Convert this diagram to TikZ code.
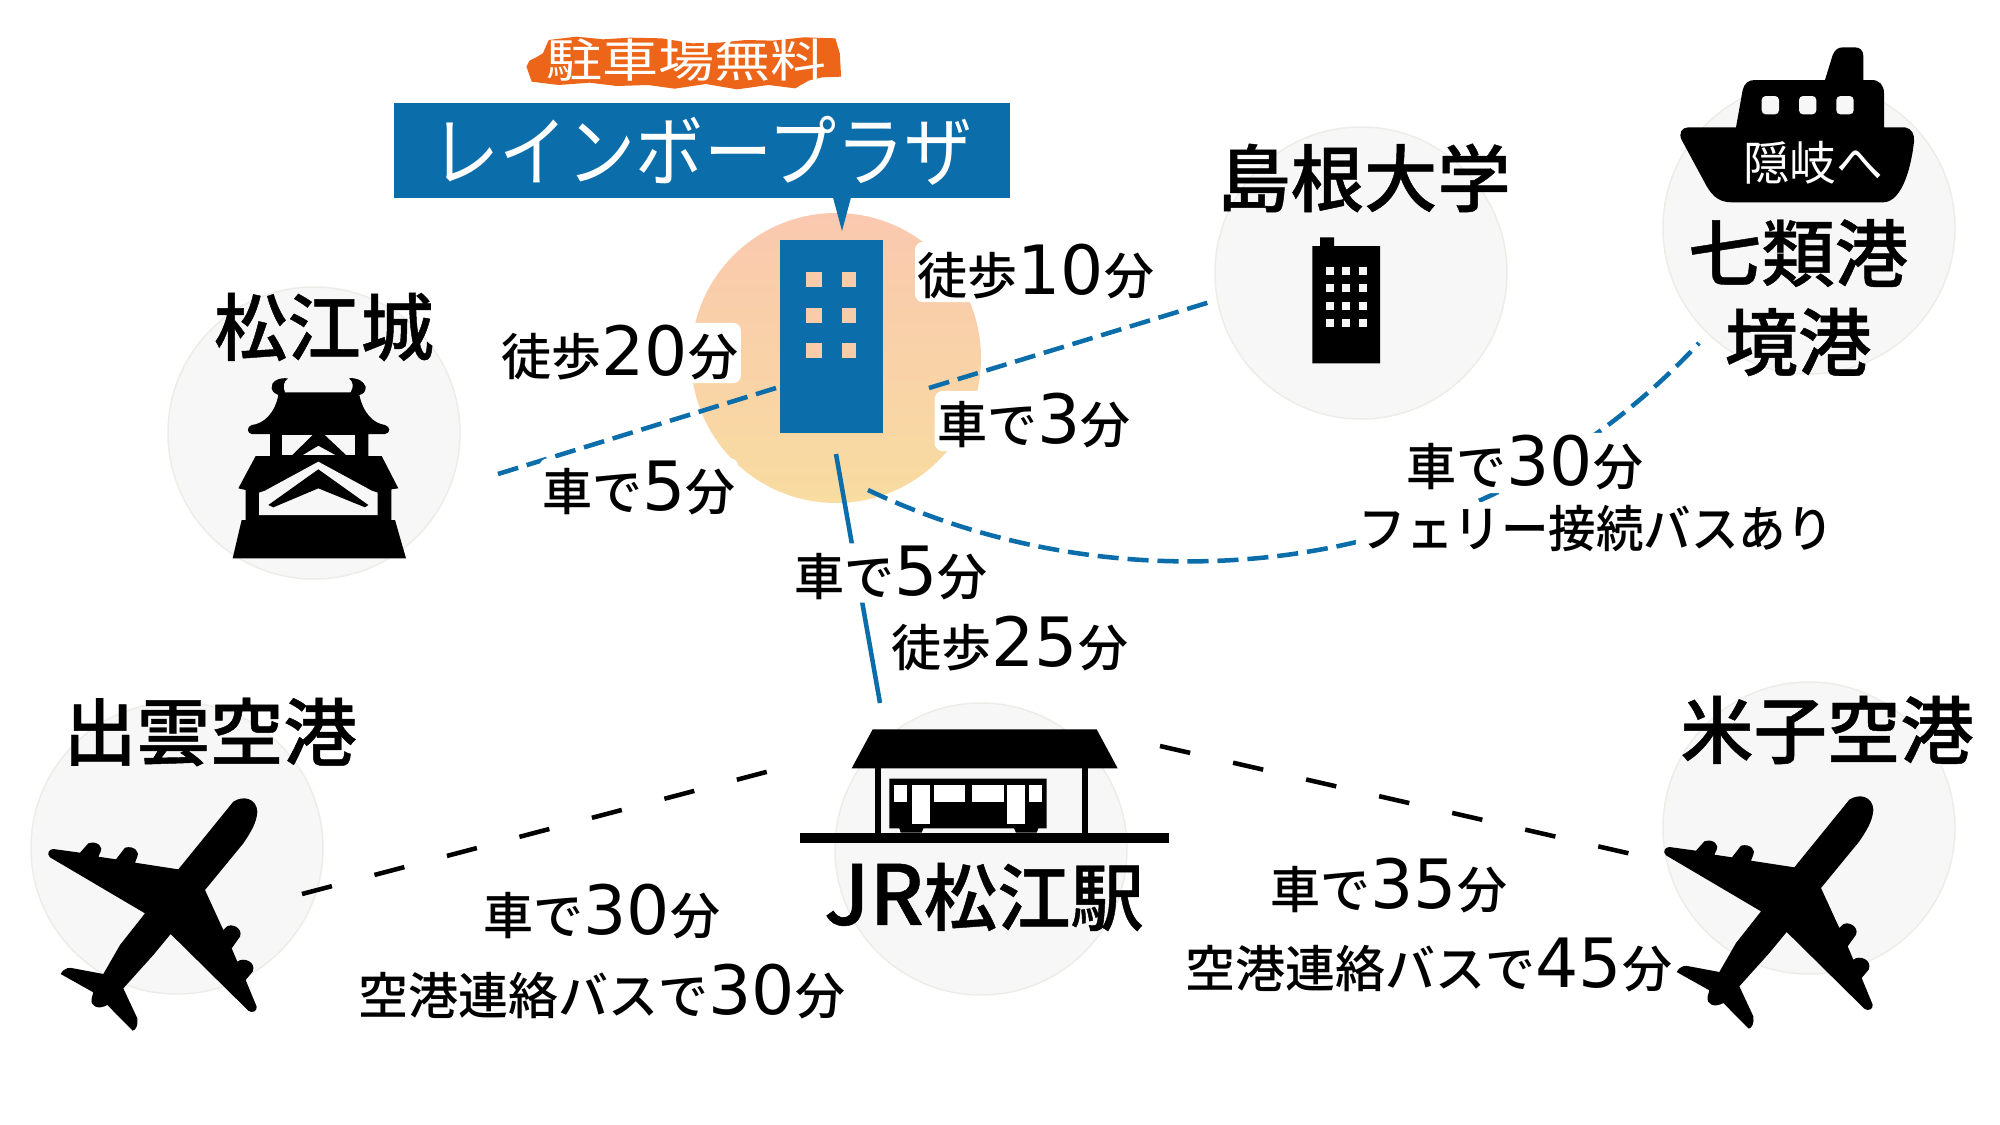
\documentclass[tikz,border=0pt]{standalone}
\usepackage{fontspec}
\setmainfont{Noto Sans CJK JP}
\newfontfamily\midfont{Noto Sans CJK JP Medium}
\newfontfamily\headfont[FakeBold=0.6]{Noto Sans CJK JP Medium}
\newfontfamily\digitfont{DejaVu Sans}
\usetikzlibrary{calc}
\definecolor{rblue}{HTML}{0B6EAA}
\definecolor{spotfill}{HTML}{F7F7F7}
\definecolor{spotedge}{HTML}{EEECE9}
\definecolor{peach}{HTML}{F8CBA9}
\definecolor{hubtop}{HTML}{FAC8AF}
\definecolor{hubbot}{HTML}{F8DCA0}
\definecolor{tagorange}{HTML}{EC6519}
\newcommand{\D}[1]{{\fontsize{51}{56}\digitfont #1}}
\tikzset{
  spot/.style={circle,minimum size=219pt,inner sep=0pt,fill=spotfill,draw=spotedge,line width=1.1pt},
  heading/.style={font=\fontsize{55}{60}\headfont,inner sep=0pt,text=black},
  timelabel/.style={font=\fontsize{37.5}{42}\midfont,inner sep=0pt,text=black},
  halo/.style={fill=white,rounded corners=6pt,inner sep=2pt},
  bluedash/.style={draw=rblue,line width=3.4pt,dash pattern=on 15.8pt off 6.7pt},
  blackdash/.style={draw=black,line width=3.4pt,dash pattern=on 23.2pt off 33pt},
  blueline/.style={draw=rblue,line width=3.4pt},
  icon/.style={fill=black},
  iconhole/.style={fill=spotfill},
}
\newcommand{\planeshape}{
  \fill[icon] (610,65) .. controls (640,45) and (680,55) .. (682,95) .. controls (680,130) and (660,160) .. (640,190)
   -- (525,330) -- (580,450) -- (590,440) .. controls (605,428) and (640,445) .. (630,470) -- (605,505) -- (622,545)
   .. controls (640,530) and (680,545) .. (668,575) -- (647,600) -- (680,680) .. controls (682,695) and (665,700) .. (655,692)
   -- (422,462) -- (370,525) -- (280,625) -- (322,715) .. controls (325,735) and (318,750) .. (308,752) -- (232,675)
   .. controls (205,690) and (180,680) .. (185,655) -- (190,637) -- (92,582) .. controls (105,560) and (120,563) .. (130,565)
   -- (220,582) -- (270,495) -- (345,400) -- (60,232) .. controls (50,222) and (55,208) .. (70,207) -- (150,218) -- (175,190)
   .. controls (205,180) and (220,205) .. (212,215) -- (205,230) -- (258,238) -- (285,203) .. controls (315,195) and (330,220) .. (322,230)
   -- (315,248) -- (445,268) -- cycle;
}
\begin{document}
\begin{tikzpicture}[x=0.75pt,y=-0.75pt]
\useasboundingbox (0,0) rectangle (2000,1125);
\fill[white] (0,0) rectangle (2000,1125);

% background spots
\node[spot] (castle) at (314,433) {};
\node[spot] (univ) at (1361,273) {};
\node[spot] (port) at (1809,228) {};
\node[spot] (izumo) at (177,848) {};
\node[spot] (station) at (981,849) {};
\node[spot] (yonago) at (1809,828) {};
\node[circle,minimum size=217.5pt,inner sep=0pt,top color=hubtop,bottom color=hubbot] (hub) at (836,358) {};

% connector end points
\coordinate (castleEnd) at (498,474);
\coordinate (hubWest) at (776,388);
\coordinate (hubEast) at (929,388);
\coordinate (univEnd) at (1210,302);
\coordinate (hubSouth) at (836,454);
\coordinate (stationNorth) at (880,703);
\coordinate (hubSE) at (868,490);
\coordinate (portEnd) at (1699,343);
\coordinate (izumoEnd) at (302,894);
\coordinate (stationWest) at (770,771);
\coordinate (stationEast) at (1160,746);
\coordinate (yonagoEnd) at (1636,855);

% connectors
\draw[bluedash] (castleEnd) -- (hubWest);
\draw[bluedash] (hubEast) -- (univEnd);
\draw[blueline] (hubSouth) -- (stationNorth);
\draw[bluedash] (hubSE) .. controls (1120,610) and (1470,590) .. (portEnd);
\draw[blackdash] (izumoEnd) -- (stationWest);
\draw[blackdash] (stationEast) -- (yonagoEnd);

% hub building
\fill[rblue] (780,240) rectangle (883,433);
\foreach \wy in {272,308,343} {
  \fill[peach] (806,\wy) rectangle (822,\wy+15);
  \fill[peach] (842,\wy) rectangle (856,\wy+15);
}

% plaza sign
\fill[rblue] (831,190) -- (842,231) -- (853,190) -- cycle;
\node[fill=rblue,minimum width=462pt,minimum height=71.25pt,inner sep=0pt,text=white,font=\fontsize{58}{62}\selectfont] (plaza) at (702,150.5) {\scalebox{0.88}[1]{レインボープラザ}};

% parking tag
\begin{scope}[shift={(380,20)},x=0.3348pt,y=-0.25pt]
\fill[tagorange] (328,140) -- (335,122) -- (350,112) -- (365,100) -- (378,60) -- (440,50) -- (500,58) -- (560,53) -- (630,55) -- (700,70) -- (760,68) -- (820,60) -- (880,62) -- (950,52) -- (1020,55) -- (1030,100) -- (1033,170) -- (990,172) -- (960,182) -- (930,205) -- (870,195) -- (800,208) -- (730,192) -- (660,206) -- (600,195) -- (530,198) -- (470,188) -- (400,195) -- (340,185) -- cycle;
\end{scope}
\node[text=white,inner sep=0pt,yscale=0.82,font=\fontsize{42}{46}\selectfont] (parking) at (686,60) {駐車場無料};

% time labels
\node[timelabel,halo] (t10) at (1036,272) {徒歩\D{10}分};
\node[timelabel,halo] (t20) at (620,353) {徒歩\D{20}分};
\node[timelabel,halo] (c3) at (1034,421) {車で\D{3}分};
\node[timelabel,halo] (c5w) at (639,488) {車で\D{5}分};
\node[timelabel,halo] (c5s) at (891,573) {車で\D{5}分};
\node[timelabel] (t25) at (1010,644) {徒歩\D{25}分};
\node[timelabel,halo] (c30e) at (1525,463) {車で\D{30}分};
\node[timelabel,halo] (ferry) at (1596,528) {\scalebox{0.95}[1]{フェリー接続バスあり}};
\node[timelabel] (c30w) at (602,912) {車で\D{30}分};
\node[timelabel] (bus30) at (602,992) {空港連絡バスで\D{30}分};
\node[timelabel] (c35) at (1389,886) {車で\D{35}分};
\node[timelabel] (bus45) at (1429,965) {空港連絡バスで\D{45}分};

% headings
\node[heading] (hCastle) at (324,327) {松江城};
\node[heading] (hUniv) at (1364,178) {島根大学};
\node[heading] (hPort1) at (1798,253) {七類港};
\node[heading] (hPort2) at (1798,342) {境港};
\node[heading] (hIzumo) at (210,732) {出雲空港};
\node[heading] (hYonago) at (1827,730) {米子空港};
\node[heading] (hStation) at (984,897) {{\fontsize{62}{66}\selectfont JR}松江駅};

% castle icon
\begin{scope}[shift={(150,270)},x=0.25pt,y=-0.25pt]
\fill[icon] (414,325) .. controls (385,322) and (362,335) .. (365,355) .. controls (368,368) and (378,372) .. (385,375)
  .. controls (375,430) and (340,462) .. (305,465) .. controls (290,470) and (290,490) .. (305,492) -- (360,492) -- (360,558)
  -- (317,558) -- (265,655) -- (287,660) -- (287,750) -- (275,750) -- (248,865) -- (768,865) -- (735,750) -- (724,750)
  -- (724,658) -- (745,655) -- (695,558) -- (655,558) -- (655,492) -- (705,492) .. controls (722,490) and (722,470) .. (705,465)
  .. controls (670,460) and (640,430) .. (628,375) .. controls (640,372) and (648,365) .. (647,350) .. controls (640,332) and (620,322) .. (597,325)
  .. controls (610,335) and (612,350) .. (602,367) -- (405,367) .. controls (398,350) and (400,335) .. (414,325) -- cycle;
\fill[iconhole] (397,495) rectangle (615,555);
\fill[icon] (490,493) -- (522,493) -- (590,557) -- (560,557) -- (505,527) -- (455,557) -- (425,557) -- cycle;
\fill[iconhole] (327,668) -- (345,662) -- (505,575) -- (665,662) -- (683,668) -- (683,735) -- (327,735) -- cycle;
\fill[icon] (355,705) -- (505,598) -- (655,705) -- (645,712) -- (505,655) -- (370,712) -- cycle;
\end{scope}

% office icon
\begin{scope}[shift={(1300,230)},x=0.25pt,y=-0.25pt]
\fill[icon] (37,48) -- (60,48) -- (60,22) -- (102,22) -- (102,48) -- (240,48) -- (240,400) -- (37,400) -- cycle;
\foreach \wx in {77,127,177} \foreach \wy in {110,163,216,268} {
  \fill[iconhole] (\wx,\wy) rectangle (\wx+24,\wy+24);
}
\end{scope}

% ship icon
\begin{scope}[shift={(1660,30)},x=0.25pt,y=-0.25pt]
\fill[icon] (495,150) -- (518,75) .. controls (525,58) and (535,52) .. (550,52) -- (585,52) .. controls (600,52) and (610,62) .. (610,78) -- (610,150)
  -- (635,150) .. controls (658,150) and (672,165) .. (672,190) -- (672,292) -- (735,292) .. controls (755,295) and (765,315) .. (762,335)
  .. controls (755,400) and (730,515) .. (670,517) -- (215,517) .. controls (170,517) and (150,490) .. (130,450) -- (65,330)
  .. controls (55,310) and (65,292) .. (85,292) -- (228,292) -- (248,180) .. controls (253,160) and (265,150) .. (285,150) -- cycle;
\foreach \wx in {305,417,529} {
  \fill[iconhole,rounded corners=3pt] (\wx,198) rectangle (\wx+52,253);
}
\end{scope}
\node[text=white,inner sep=0pt,font=\fontsize{35}{38}\selectfont] (oki) at (1813,163) {隠岐へ};

% station icon
\begin{scope}[shift={(780,700)},x=0.25pt,y=-0.25pt]
\fill[icon] (278,88) -- (950,88) -- (1013,205) -- (215,205) -- cycle;
\fill[icon] (285,205) rectangle (302,400);
\fill[icon] (906,205) rectangle (924,400);
\fill[icon] (60,398) rectangle (1168,428);
\fill[icon] (328,236) -- (800,236) -- (800,385) -- (775,385) -- (770,398) -- (708,398) -- (702,385) -- (430,385) -- (425,398) -- (362,398) -- (358,385) -- (328,385) -- cycle;
\fill[white] (343,255) rectangle (381,305);
\fill[white] (395,255) rectangle (449,372);
\fill[white] (461,255) rectangle (556,305);
\fill[white] (575,255) rectangle (671,305);
\fill[white] (682,255) rectangle (736,372);
\fill[white] (748,255) rectangle (787,305);
\end{scope}

% plane icons
\begin{scope}[shift={(30,780)},x=0.25pt,y=-0.25pt]
\planeshape
\end{scope}
\begin{scope}[shift={(1646,778)},x=0.25pt,y=-0.25pt]
\planeshape
\end{scope}
\end{tikzpicture}
\end{document}
